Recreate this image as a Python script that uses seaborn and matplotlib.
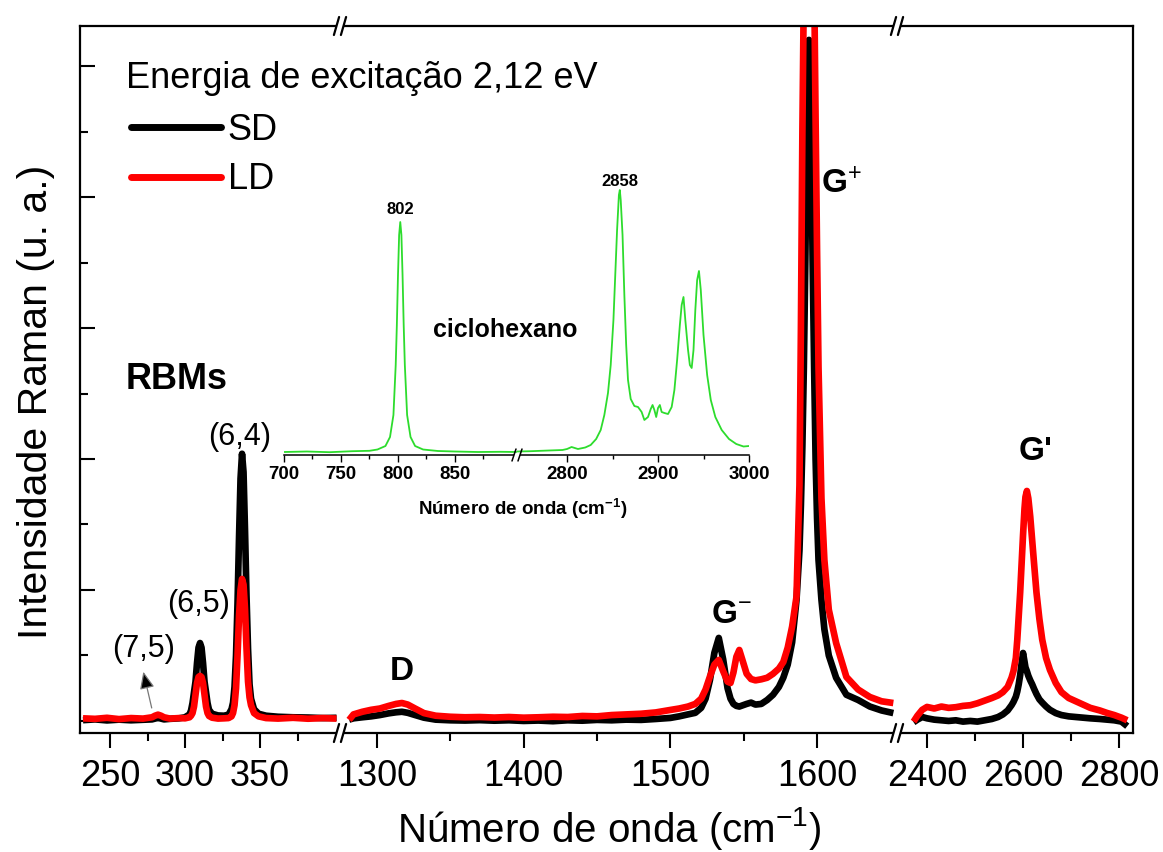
import matplotlib
matplotlib.use("Agg")
import matplotlib.pyplot as plt
from matplotlib.lines import Line2D
import pandas as pd
import seaborn as sns

sns.set_theme(style="ticks")
plt.rcParams["font.family"] = ["Liberation Sans", "DejaVu Sans"]
plt.rcParams["mathtext.fontset"] = "custom"
plt.rcParams["mathtext.rm"] = "Liberation Sans"
plt.rcParams["mathtext.it"] = "Liberation Sans:italic"
plt.rcParams["mathtext.bf"] = "Liberation Sans:bold"
plt.rcParams["text.color"] = "black"
plt.rcParams["axes.labelcolor"] = "black"
plt.rcParams["xtick.color"] = "black"
plt.rcParams["ytick.color"] = "black"

# ---------------- Raman spectra (arbitrary units) ----------------
# RBM window
rbm_shift = [232, 240, 248, 256, 264, 272, 278, 280, 282, 284,
             286, 290, 296, 300, 303, 304, 305, 306, 307, 308,
             309, 310, 311, 312, 313, 314, 315, 316, 318, 322,
             326, 329, 331, 332, 333, 334, 335, 336, 337, 338,
             339, 340, 341, 342, 343, 344, 346, 349, 354, 362,
             372, 382, 392, 401]
rbm_sd = [6, 12, 4, 10, 5, 9, 12, 18, 24, 18,
          12, 16, 20, 28, 50, 80, 137, 220, 300, 443,
          560, 595, 560, 443, 300, 220, 137, 85, 55, 42,
          40, 48, 90, 140, 260, 500, 900, 1400, 1850, 2040,
          1900, 1450, 950, 550, 280, 170, 90, 55, 40, 32,
          28, 26, 22, 24]
rbm_ld = [20, 16, 24, 14, 22, 18, 28, 40, 48, 40,
          28, 18, 22, 20, 28, 40, 60, 110, 200, 290,
          335, 344, 335, 290, 200, 110, 60, 38, 25, 18,
          20, 22, 35, 60, 120, 250, 500, 800, 1000, 1084,
          1040, 850, 550, 300, 180, 120, 60, 35, 22, 18,
          24, 17, 22, 18]

# D / G window
g_shift = [1281, 1284, 1290, 1296, 1302, 1308, 1313, 1317, 1321, 1326,
           1332, 1340, 1350, 1360, 1370, 1380, 1390, 1400, 1410, 1420,
           1430, 1440, 1450, 1460, 1470, 1480, 1490, 1500, 1506, 1512,
           1517, 1521, 1524, 1527, 1530, 1533, 1536, 1539, 1541, 1543,
           1545, 1547, 1549, 1552, 1555, 1558, 1562, 1566, 1570, 1574,
           1577, 1580, 1583, 1586, 1588, 1589, 1590, 1591, 1592, 1593,
           1594.5, 1596, 1597, 1598, 1599, 1600, 1601, 1603, 1605, 1608,
           1613, 1620, 1628, 1636, 1644, 1652]
g_sd = [10, 20, 28, 35, 45, 58, 66, 70, 62, 45,
        25, 10, 5, 3, 6, 2, 5, 0, 3, -2,
        5, 2, 8, 5, 10, 8, 15, 23, 35, 50,
        62, 100, 170, 313, 520, 634, 470, 250, 170, 130,
        115, 110, 118, 130, 140, 125, 130, 160, 200, 260,
        330, 430, 600, 924, 1300, 1650, 2100, 2700, 3500, 4400,
        5200, 4400, 3500, 2700, 2000, 1550, 1229, 924, 700, 500,
        330, 200, 160, 110, 80, 60]
g_ld = [8, 50, 70, 85, 95, 115, 130, 137, 125, 95,
        60, 40, 32, 28, 30, 26, 30, 25, 28, 32,
        30, 38, 35, 45, 50, 55, 65, 84, 95, 110,
        130, 170, 240, 340, 430, 466, 380, 300, 290, 370,
        490, 542, 470, 360, 320, 310, 318, 330, 360, 400,
        450, 560, 720, 950, 1800, 3000, 4500, 5600, 6500, 7200,
        7600, 7300, 6700, 5700, 4600, 3600, 2700, 1700, 1229, 850,
        595, 336, 240, 183, 150, 137]

# G' window
g2_shift = [2372, 2380, 2390, 2400, 2415, 2430, 2445, 2460, 2475, 2490,
            2505, 2520, 2535, 2548, 2558, 2568, 2576, 2580, 2585, 2588,
            2591, 2594, 2597, 2600, 2603, 2605, 2608, 2611, 2615, 2619,
            2623, 2628, 2634, 2640, 2648, 2656, 2668, 2680, 2695, 2710,
            2725, 2740, 2760, 2775, 2790, 2805, 2817]
g2_sd = [-10, 10, 30, 20, 10, 5, 0, 5, -5, 0,
         -5, 5, 15, 30, 50, 80, 120, 145, 185, 225,
         280, 350, 440, 519, 455, 410, 380, 345, 310, 280,
         245, 205, 165, 140, 110, 85, 60, 45, 35, 30,
         25, 20, 15, 10, 5, -5, -40]
g2_ld = [-5, 40, 85, 107, 95, 110, 100, 105, 115, 120,
         135, 155, 175, 195, 220, 260, 330, 380, 480, 620,
         800, 980, 1200, 1420, 1620, 1710, 1756, 1700, 1560, 1380,
         1200, 980, 780, 620, 480, 390, 290, 220, 175, 150,
         125, 100, 80, 61, 45, 25, 5]

# Cyclohexane reference spectrum (inset)
cyc_low_shift = [700, 720, 740, 760, 775, 782, 789, 793, 796, 798,
                 799, 800, 801, 802, 803, 804, 805, 806, 808, 811,
                 815, 822, 835, 850, 870, 890, 904]
cyc_low = [30, 35, 28, 38, 42, 55, 90, 180, 400, 900,
           1300, 1800, 2200, 2330, 2200, 1800, 1300, 900, 400, 180,
           90, 55, 40, 35, 30, 32, 30]
cyc_high_shift = [2745, 2760, 2780, 2795, 2800, 2805, 2812, 2820, 2826, 2832,
                  2837, 2841, 2845, 2848, 2851, 2853, 2855, 2857, 2858, 2859,
                  2861, 2863, 2865, 2867, 2870, 2874, 2878, 2882, 2885, 2889,
                  2892, 2894, 2896, 2898, 2900, 2902, 2904, 2907, 2911, 2915,
                  2918, 2921, 2924, 2926, 2928, 2930, 2933, 2935, 2937, 2939,
                  2941, 2943, 2945, 2947, 2950, 2954, 2958, 2963, 2970, 2978,
                  2986, 2994, 3000]
cyc_high = [35, 38, 45, 50, 60, 80, 60, 75, 100, 160,
            250, 400, 620, 900, 1350, 1800, 2250, 2600, 2650, 2550,
            2200, 1600, 1100, 750, 560, 490, 480, 430, 350, 380,
            460, 500, 450, 380, 470, 500, 430, 420, 410, 480,
            650, 950, 1300, 1500, 1580, 1350, 1050, 900, 870, 1050,
            1450, 1750, 1840, 1650, 1200, 800, 550, 380, 250, 160,
            110, 85, 90]

series_labels = ["SD", "LD"]
series_colors = ["black", "#ff0000"]
legend_title = "Energia de excitação 2,12 eV"

# ---------------- figure layout ----------------
W, H = 1163, 852
fig = plt.figure(figsize=(W / 100, H / 100), dpi=100)


def box(x0, x1, y_top, y_bot):
    return [x0 / W, 1 - y_bot / H, (x1 - x0) / W, (y_bot - y_top) / H]


ax_rbm = fig.add_axes(box(80, 340, 26, 733))
ax_g = fig.add_axes(box(340, 897, 26, 733))
ax_g2 = fig.add_axes(box(897, 1133, 26, 733))

LW = 4.8
for ax, x, sd, ld in [(ax_rbm, rbm_shift, rbm_sd, rbm_ld),
                      (ax_g, g_shift, g_sd, g_ld),
                      (ax_g2, g2_shift, g2_sd, g2_ld)]:
    df = pd.DataFrame({"shift": x, "SD": sd, "LD": ld})
    for col, c in zip(series_labels, series_colors):
        sns.lineplot(data=df, x="shift", y=col, ax=ax, color=c, linewidth=LW,
                     estimator=None, sort=False, legend=False,
                     solid_joinstyle="round", solid_capstyle="butt")
    ax.set_xlabel("")
    ax.set_ylabel("")
    ax.set_ylim(-92, 5306)
    ax.set_facecolor("none")
    for s in ax.spines.values():
        s.set_linewidth(1.6)
        s.set_color("black")
    ax.tick_params(axis="x", which="both", direction="out", bottom=True, top=False,
                   width=1.5, color="black", labelsize=26, pad=8, labelcolor="black")
    ax.tick_params(axis="x", which="major", length=11)
    ax.tick_params(axis="x", which="minor", length=5.5)
    ax.tick_params(axis="y", which="both", left=False, right=False, labelleft=False)

ax_rbm.set_xlim(230, 403.3)
ax_g.set_xlim(1274.8, 1654.5)
ax_g2.set_xlim(2337.5, 2829)

ax_rbm.set_xticks([250, 300, 350])
ax_rbm.set_xticks([275, 325, 375], minor=True)
ax_g.set_xticks([1300, 1400, 1500, 1600])
ax_g.set_xticks([1350, 1450, 1550], minor=True)
ax_g2.set_xticks([2400, 2600, 2800])
ax_g2.set_xticks([2500, 2700], minor=True)

ax_rbm.set_yticks(range(0, 5001, 1000))
ax_rbm.set_yticks(range(500, 5000, 1000), minor=True)
ax_rbm.tick_params(axis="y", which="both", direction="in", left=True,
                   width=1.5, color="black", labelleft=False)
ax_rbm.tick_params(axis="y", which="major", length=11)
ax_rbm.tick_params(axis="y", which="minor", length=5.5)

ax_rbm.spines["right"].set_visible(False)
ax_g.spines["left"].set_visible(False)
ax_g.spines["right"].set_visible(False)
ax_g2.spines["left"].set_visible(False)


def fig_line(xs, ys, **kw):
    fig.add_artist(Line2D([v / W for v in xs], [1 - v / H for v in ys],
                          transform=fig.transFigure, **kw))


def axis_break(xp, yp, half_h=9, gap=3.5, slant=2.6, lw=1.6):
    fig_line([xp - gap, xp + gap], [yp, yp], color="white", lw=3, solid_capstyle="butt")
    for dx in (-gap, gap):
        fig_line([xp + dx - slant, xp + dx + slant], [yp + half_h, yp - half_h],
                 color="black", lw=lw)


for xp in (340, 897):
    axis_break(xp, 733)
    axis_break(xp, 26)

# ---------------- labels ----------------
fig.text(609 / W, 1 - 842 / H, r"Número de onda (cm$^{-1}$)", fontsize=29,
         ha="center", va="baseline")
fig.text(36 / W, 1 - 402 / H, "Intensidade Raman (u. a.)", fontsize=29.5,
         ha="center", va="center", rotation=90)

ax_rbm.text(260.7, 2534, "RBMs", fontsize=26, fontweight="bold", ha="left", va="baseline")
ax_rbm.text(336.7, 2168, "(6,4)", fontsize=22, ha="center", va="center")
ax_rbm.text(308.7, 890, "(6,5)", fontsize=22, ha="center", va="center")
ax_rbm.text(272.3, 550, "(7,5)", fontsize=22, ha="center", va="center")
ax_rbm.annotate("", xy=(272.2, 376), xytext=(277.8, 99),
                arrowprops=dict(arrowstyle="-|>,head_length=0.7,head_width=0.3",
                                fc="black", ec="#777777", lw=0.9,
                                shrinkA=0, shrinkB=0, mutation_scale=15))

ax_g.text(1308.9, 313, "D", fontsize=24, fontweight="bold", ha="left", va="baseline")
ax_g.text(1527.7, 748, r"G$^{-}$", fontsize=24, fontweight="bold", ha="left", va="baseline")
ax_g.text(1602.7, 4031, r"G$^{+}$", fontsize=24, fontweight="bold", ha="left", va="baseline")
ax_g2.text(2626, 2054, "G'", fontsize=24, fontweight="bold", ha="center", va="center")

fig.text(126 / W, 1 - 87.5 / H, legend_title, fontsize=26, ha="left", va="baseline")
handles = [Line2D([], [], color=c, lw=5, solid_capstyle="round", label=l)
           for l, c in zip(series_labels, series_colors)]
fig.legend(handles=handles, loc="upper left",
           bbox_to_anchor=(131 / W, 1 - 113 / H), frameon=False, fontsize=26,
           handlelength=2.5, handletextpad=0.18,
           labelspacing=0.4, borderpad=0, borderaxespad=0)

# ---------------- inset: cyclohexane ----------------
ax_in1 = fig.add_axes(box(284, 517, 170, 455))
ax_in2 = fig.add_axes(box(517, 749, 170, 455))
green = "#2ddc2d"
sns.lineplot(x=cyc_low_shift, y=cyc_low, ax=ax_in1, color=green, linewidth=1.3,
             estimator=None, sort=False)
sns.lineplot(x=cyc_high_shift, y=cyc_high, ax=ax_in2, color=green, linewidth=1.3,
             estimator=None, sort=False)
ax_in1.set_xlim(700, 904.4)
ax_in2.set_xlim(2745, 3000)
ax_in1.set_xticks([700, 750, 800, 850])
ax_in1.set_xticks([725, 775, 825, 875], minor=True)
ax_in2.set_xticks([2800, 2900, 3000])
ax_in2.set_xticks([2850, 2950], minor=True)
for ax in (ax_in1, ax_in2):
    ax.set_ylim(0, 2850)
    ax.set_facecolor("none")
    ax.set_xlabel("")
    ax.set_ylabel("")
    for k in ("left", "right", "top"):
        ax.spines[k].set_visible(False)
    ax.spines["bottom"].set_linewidth(1.1)
    ax.spines["bottom"].set_color("black")
    ax.tick_params(axis="y", left=False, labelleft=False)
    ax.tick_params(axis="x", which="both", direction="out", bottom=True, width=1.0,
                   color="black", labelsize=13.5, pad=3)
    ax.tick_params(axis="x", which="major", length=5)
    ax.tick_params(axis="x", which="minor", length=3)
    for t in ax.get_xticklabels():
        t.set_fontweight("bold")

axis_break(517, 455, half_h=6, gap=3, slant=2, lw=1.1)
ax_in1.text(802, 2450, "802", fontsize=12, fontweight="bold", ha="center", va="center")
ax_in2.text(2858, 2740, "2858", fontsize=12, fontweight="bold", ha="center", va="center")
ax_in1.text(893.9, 1250, "ciclohexano", fontsize=18, fontweight="bold",
            ha="center", va="center")
fig.text(523 / W, 1 - 509 / H, r"Número de onda (cm$^{\mathbf{-1}}$)", fontsize=13.5,
         fontweight="bold", ha="center", va="center")

fig.savefig("out.png", dpi=100)
